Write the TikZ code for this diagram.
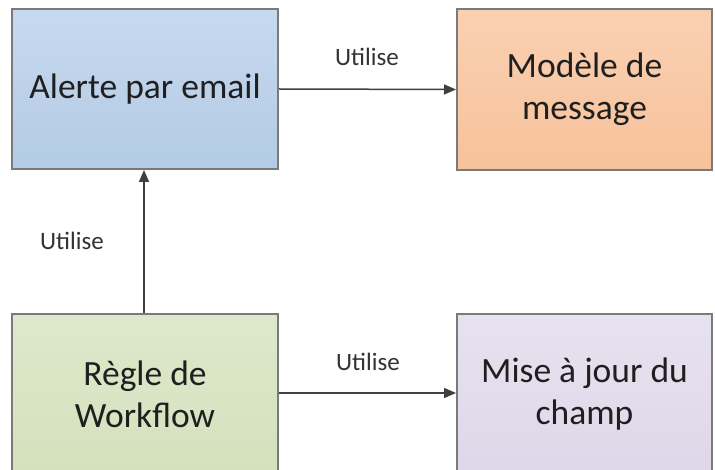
\documentclass[tikz,border=0pt]{standalone}
\usepackage{fontspec}
\setmainfont{Carlito}
\usetikzlibrary{arrows.meta}
\definecolor{bordergray}{HTML}{7A7A7A}
\definecolor{linegray}{HTML}{404040}
\definecolor{blueT}{HTML}{C7D9EE}
\definecolor{blueB}{HTML}{B3CBE5}
\definecolor{orangeT}{HTML}{FAD0B2}
\definecolor{orangeB}{HTML}{F7C29B}
\definecolor{greenT}{HTML}{DEE8CC}
\definecolor{greenB}{HTML}{D4E1BC}
\definecolor{purpleT}{HTML}{E7E2EF}
\definecolor{purpleB}{HTML}{DED7E9}
\tikzset{
  box/.style={draw=bordergray, line width=2pt, align=center, inner sep=0pt,
    font=\fontsize{35.5}{42}\selectfont, text=black!88},
  conn/.style={draw=linegray, line width=1.5pt, -{Triangle[length=12pt,width=10pt]}},
  lbl/.style={font=\fontsize{25}{30}\selectfont, text=black!80},
}
\begin{document}
\begin{tikzpicture}[x=1pt,y=-1pt]
\clip (0,0) rectangle (715,470);
\fill[white] (0,0) rectangle (715,470);
\node[box, top color=blueT, bottom color=blueB, minimum width=266pt, minimum height=160pt] (alerte) at (145,89) {Alerte par email};
\node[box, top color=orangeT, bottom color=orangeB, minimum width=255pt, minimum height=161pt] (modele) at (584.5,89.5) {Modèle de\\message};
\node[box, top color=greenT, bottom color=greenB, minimum width=266pt, minimum height=160pt] (regle) at (145,394) {Règle de\\Workflow};
\node[box, top color=purpleT, bottom color=purpleB, minimum width=255pt, minimum height=160pt] (maj) at (584.5,394) {Mise à jour du\\champ};
\draw[conn] (alerte.east) -- (modele.west);
\draw[conn] (regle.north -| 144,0) -- (alerte.south -| 144,0);
\draw[conn] (regle.east |- 0,393) -- (maj.west |- 0,393);
\node[lbl] (l1) at (367,57) {Utilise};
\node[lbl] (l2) at (72,241) {Utilise};
\node[lbl] (l3) at (368,362) {Utilise};
\end{tikzpicture}
\end{document}
